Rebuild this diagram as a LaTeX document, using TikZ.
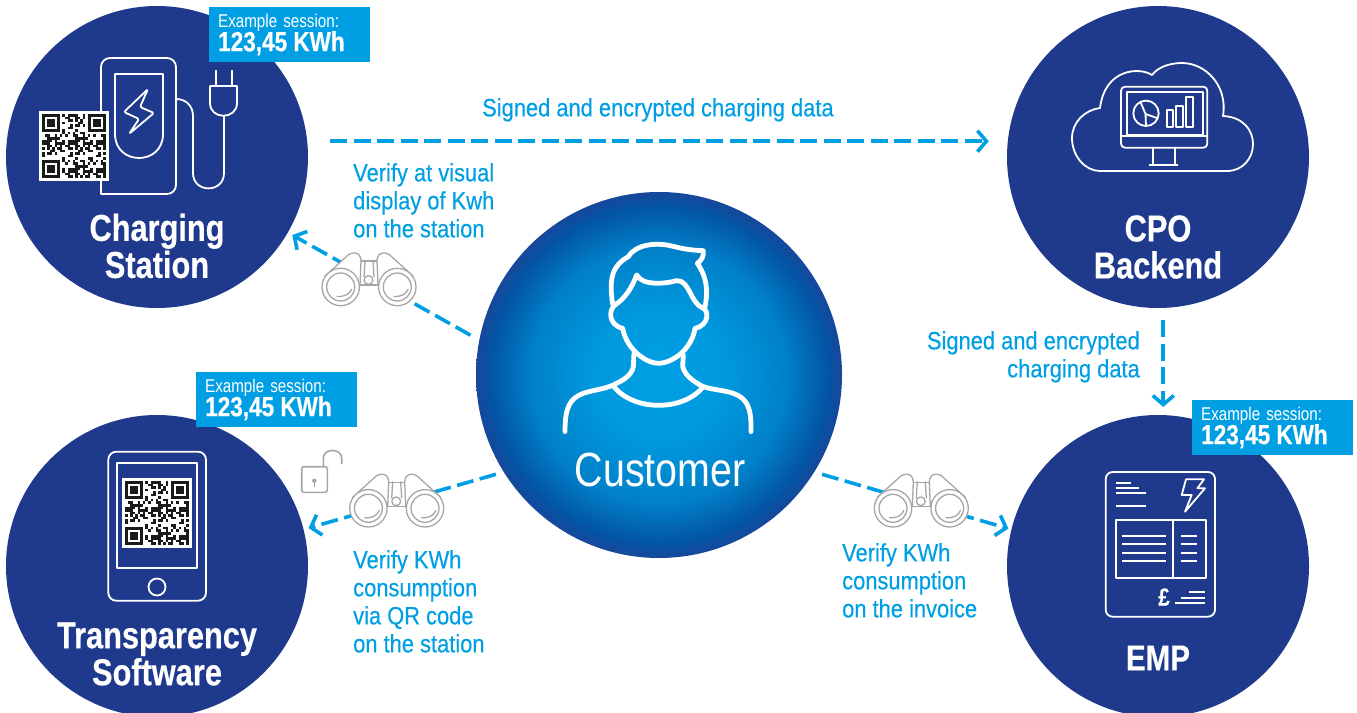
\documentclass[tikz,border=0pt]{standalone}
\usepackage{fontspec}
\setmainfont[FakeStretch=0.82,BoldFeatures={FakeBold=0.4}]{Liberation Sans}
\newfontfamily\flowfont[FakeStretch=0.875,FakeBold=0.35]{Liberation Sans}
\usetikzlibrary{arrows.meta}
\definecolor{hubnavy}{RGB}{31, 58, 140}
\definecolor{flowblue}{RGB}{0, 159, 227}
\definecolor{scopegray}{RGB}{166, 166, 166}
\definecolor{qrink}{RGB}{26, 26, 26}
\definecolor{glowa}{RGB}{0, 159, 227}
\definecolor{glowb}{RGB}{0, 153, 222}
\definecolor{glowc}{RGB}{0, 128, 200}
\definecolor{glowd}{RGB}{3, 85, 165}
\definecolor{glowe}{RGB}{28, 68, 152}
\definecolor{glowf}{RGB}{42, 58, 143}
\pgfdeclareradialshading{customerglow}{\pgfpoint{0bp}{0bp}}{color(0bp)=(glowa); color(9bp)=(glowb); color(17.5bp)=(glowc); color(23bp)=(glowd); color(25.5bp)=(glowe); color(27bp)=(glowf); color(50bp)=(glowf)}
\tikzset{
    hubdisc/.style={circle, fill=hubnavy, minimum size=302pt, inner sep=0pt},
    hublabel/.style={text=white, align=center, font=\fontsize{37.5}{37}\selectfont\bfseries},
    badgebox/.style={anchor=north west, fill=flowblue, text=white, minimum width=161pt, minimum height=55pt,
        inner xsep=9pt, inner ysep=0pt, text width=143pt, align=left, font=\fontsize{18.5}{23}\selectfont},
    flowlabel/.style={anchor=north west, text=flowblue, align=left, inner sep=0pt, font=\fontsize{25}{28}\selectfont\flowfont},
    flowline/.style={draw=flowblue, line width=3.6pt, dash pattern=on 17pt off 6.5pt,
        -{Straight Barb[length=9pt,width=21pt,line width=3.6pt]}},
    iconline/.style={draw=white, line width=1.8pt, line join=round},
    pics/qrcode/.style={code={
        \fill[white] (-35,-35) rectangle (35,35);
        \def\cell{2.55}
        \foreach \c in {0,...,24}{
            \foreach \r in {0,...,24}{
                \pgfmathtruncatemacro{\bit}{mod(\c*\c*3+\r*\r*5+\c*\r*7+\c+2*\r,11)<5 ? 1 : 0}
                \pgfmathtruncatemacro{\skipit}{(\c<8 && \r<8) || (\c>16 && \r<8) || (\c<8 && \r>16) ? 1 : 0}
                \ifnum\bit=1 \ifnum\skipit=0
                    \fill[qrink] ({-32+\c*\cell},{-32+\r*\cell}) rectangle ++(\cell,\cell);
                \fi\fi
            }
        }
        % Finder squares
        \foreach \fx/\fy in {-32/-32, 14.15/-32, -32/14.15}{
            \draw[qrink, line width=2.55pt] ({\fx+1.27},{\fy+1.27}) rectangle ++(15.3,15.3);
            \fill[qrink] ({\fx+5.1},{\fy+5.1}) rectangle ++(7.65,7.65);
        }
    }},
    pics/binoculars/.style={code={
        \begin{scope}[draw=scopegray, line width=1.3pt, fill=white, line join=round]
            % Bridge and centre tube
            \filldraw (-10,-26) -- (10,-26) -- (10,-2) -- (-10,-2) -- cycle;
            \draw (-4,-27) -- (-5,-10) (4,-27) -- (5,-10);
            \filldraw (-0.5,-7) circle (4.4);
            % Barrels
            \filldraw (-44,-11) -- (-23,-30) .. controls (-18,-36) and (-8,-36) .. (-8,-26) -- (-9,-2) -- (-20,10) -- cycle;
            \filldraw (44,-11) -- (23,-30) .. controls (18,-36) and (8,-36) .. (8,-26) -- (9,-2) -- (20,10) -- cycle;
            % Lenses
            \foreach \s in {-1,1}{
                \filldraw ({\s*28.3},0) circle (18.7);
                \draw ({\s*28.3},0) circle (14);
                \draw ({\s*28.3-4},9.5) .. controls ({\s*28.3+4},10) and ({\s*28.3+9},7) .. ({\s*28.3+11},2);
            }
        \end{scope}
    }},
}
\begin{document}
\begin{tikzpicture}[x=1pt,y=-1pt]
    \useasboundingbox (0,0) rectangle (1357,712);

    % Hubs
    \node[hubdisc] (station) at (157,157) {};
    \node[hubdisc] (cpo) at (1158,157) {};
    \node[hubdisc] (software) at (157,566) {};
    \node[hubdisc] (emp) at (1158,566) {};
    \node[circle, minimum size=366pt, inner sep=0pt, shading=customerglow] (customer) at (659,375) {};

    % Connectors
    \draw[flowline, shorten <=23pt, shorten >=18pt] (station.6.08) -- (station.6.08 -| cpo.west);
    \draw[flowline, shorten <=12pt, shorten >=8pt] (cpo.-88.5) -- (emp.88.5);
    \draw[flowline, shorten <=10pt, shorten >=5pt] (customer.169) -- (station.-30);
    \draw[flowline, shorten <=8pt, shorten >=5pt] (customer.212.6) -- (software.14);
    \draw[flowline, shorten <=8pt, shorten >=3pt] (customer.-32.6) -- (emp.166);

    \pic at (369,287) {binoculars};
    \pic at (396.7,508.3) {binoculars};
    \pic at (921.3,508.3) {binoculars};

    % Lock
    \draw[scopegray, line width=1.6pt, rounded corners=1.5pt] (301.7,466.7) rectangle (327.3,492.3);
    \draw[scopegray, line width=1.6pt] (323.3,466.7) -- (323.3,458) .. controls (323.3,448) and (341.7,448) .. (341.7,458) -- (341.7,464);
    \fill[scopegray] (314.3,480.7) circle (2.2);
    \draw[scopegray, line width=1.5pt] (314.3,480.7) -- (314.3,487);

    % Charging station icon
    \draw[iconline, rounded corners=9pt] (101,194) -- (101,58) -- (176,58) -- (176,194) [sharp corners] -- cycle;
    \draw[iconline] (115,74) -- (163,74) -- (163,134) .. controls (163,166) and (115,166) .. (115,134) -- cycle;
    \draw[iconline, rounded corners=1.5pt] (148,89) -- (124,112) -- (139,119) -- (129,134) -- (154,113) -- (140,107) -- cycle;
    \draw[iconline] (176,99) .. controls (187,99) and (193,107) .. (193,116) -- (193,173)
        .. controls (193,193.5) and (224,193.5) .. (224,173) -- (224,116);
    \draw[iconline] (210,86) -- (237,86) -- (237,103) .. controls (237,120) and (210,120) .. (210,103) -- cycle;
    \draw[iconline] (216,70) -- (216,86) (232,70) -- (232,86);
    \pic at (74,146) {qrcode};

    % CPO icon
    \draw[iconline] (1100,171) -- (1227,171) .. controls (1243,171) and (1253,158) .. (1253,144)
        .. controls (1253,130) and (1243,117) .. (1223,116) .. controls (1228,85) and (1205,63) .. (1182,63)
        .. controls (1170,63) and (1158,67) .. (1152,75) .. controls (1140,67) and (1105,68) .. (1100,108)
        .. controls (1085,110) and (1072,122) .. (1072,138) .. controls (1072,156) and (1085,171) .. (1100,171) -- cycle;
    \draw[iconline, rounded corners=4pt] (1121,86.7) rectangle (1207.3,147.7);
    \draw[iconline] (1126.7,91.7) rectangle (1202.7,135) (1121,136) -- (1207.3,136);
    \draw[iconline] (1152.7,147.7) -- (1152.7,164) (1175,147.7) -- (1175,164) (1149,164.7) -- (1178,164.7);
    \draw[iconline] (1146,113.3) circle (12.7);
    \draw[iconline] (1140.5,102) -- (1145.5,114) -- (1157,118) (1145.5,114) -- (1146,126);
    \draw[iconline] (1166.7,110) rectangle (1173.3,126.7) (1176,105.7) rectangle (1182.7,126.7) (1186,97.3) rectangle (1193.3,126.7);

    % Phone icon
    \draw[iconline, rounded corners=8pt] (108.3,451.7) rectangle (206,600.7);
    \draw[iconline] (116.7,462.7) rectangle (196.7,568.3);
    \draw[iconline] (157,587) circle (8.5);
    \pic at (157,513) {qrcode};

    % Invoice icon
    \draw[iconline, rounded corners=7pt] (1105.7,472) rectangle (1215,616.7);
    \draw[iconline] (1116,482.7) -- (1130.7,482.7) (1116,487.7) -- (1139.3,487.7) (1116,492.7) -- (1145.7,492.7) (1116,506) -- (1145.7,506);
    \draw[iconline] (1186,479.3) -- (1204,479.3) -- (1197.3,488.3) -- (1205,488.3) -- (1185,511.7) -- (1191.7,495) -- (1181.7,495) -- cycle;
    \draw[iconline] (1115.7,520) rectangle (1205.7,577.7) (1173.3,520) -- (1173.3,577.7);
    \foreach \y in {535.7,544.3,552.7,561.3}{
        \draw[iconline] (1122.3,\y) -- (1166,\y) (1180.7,\y) -- (1196.7,\y);
    }
    \draw[iconline] (1189.3,592.3) -- (1205,592.3) (1180.7,597.7) -- (1205,597.7) (1175,603) -- (1205,603);
    \node[text=white, inner sep=0pt, font=\fontsize{25}{25}\selectfont\bfseries] (pound) at (1164,597) {£};

    % Customer icon, written in the crop's own units
    \begin{scope}[shift={(540,230)}, x=0.3333pt, y=-0.3333pt, draw=white, line width=4.8pt, line cap=round, line join=round]
        \draw (218,222) .. controls (205,140) and (220,105) .. (265,80) .. controls (290,40) and (350,40) .. (380,45)
            .. controls (410,50) and (430,60) .. (490,62) .. controls (492,80) and (485,90) .. (472,100) .. controls (500,140) and (505,180) .. (495,232);
        \draw (225,225) .. controls (255,205) and (275,175) .. (290,135) .. controls (310,170) and (380,160) .. (410,152)
            .. controls (450,150) and (450,220) .. (490,235);
        \draw (225,225) .. controls (205,240) and (205,285) .. (248,295) .. controls (260,360) and (320,400) .. (355,400)
            .. controls (395,400) and (455,360) .. (465,295) .. controls (510,285) and (505,240) .. (490,235);
        \draw (282,370) -- (280,410) .. controls (275,440) and (240,455) .. (220,465) .. controls (190,478) and (160,480) .. (130,490)
            .. controls (90,505) and (75,530) .. (75,605);
        \draw (430,375) -- (428,410) .. controls (435,440) and (470,460) .. (490,470) .. controls (520,480) and (550,480) .. (580,490)
            .. controls (620,505) and (635,530) .. (633,605);
        \draw (220,468) .. controls (280,545) and (430,545) .. (490,470);
    \end{scope}

    % Badges
    \node[badgebox] (stationbadge) at (209,7) {Example session:\\[-1pt]{\fontsize{27.5}{25}\selectfont\bfseries 123,45 KWh}};
    \node[badgebox] (softwarebadge) at (196,372) {Example session:\\[-1pt]{\fontsize{27.5}{25}\selectfont\bfseries 123,45 KWh}};
    \node[badgebox] (empbadge) at (1192,400) {Example session:\\[-1pt]{\fontsize{27.5}{25}\selectfont\bfseries 123,45 KWh}};

    % Hub labels
    \node[hublabel] (stationlabel) at (157,246) {Charging\\Station};
    \node[hublabel] (cpolabel) at (1158,247) {CPO\\Backend};
    \node[hublabel] (softwarelabel) at (157,654) {Transparency\\Software};
    \node[hublabel, font=\fontsize{36}{36}\selectfont\bfseries] (emplabel) at (1158,658) {EMP};
    \node[text=white, inner sep=0pt, font=\fontsize{48}{48}\selectfont] (customerlabel) at (660,470) {Customer};

    % Flow labels
    \node[flowlabel] (datalabel) at (482,98) {Signed and encrypted charging data};
    \node[flowlabel] (visuallabel) at (353,163) {Verify at visual\\display of Kwh\\on the station};
    \node[flowlabel] (qrlabel) at (353,550) {Verify KWh\\consumption\\via QR code\\on the station};
    \node[flowlabel] (invoicelabel) at (842,543) {Verify KWh\\consumption\\on the invoice};
    \node[flowlabel, anchor=north east, align=right] (backendlabel) at (1140,331) {Signed and encrypted\\charging data};
\end{tikzpicture}
\end{document}
